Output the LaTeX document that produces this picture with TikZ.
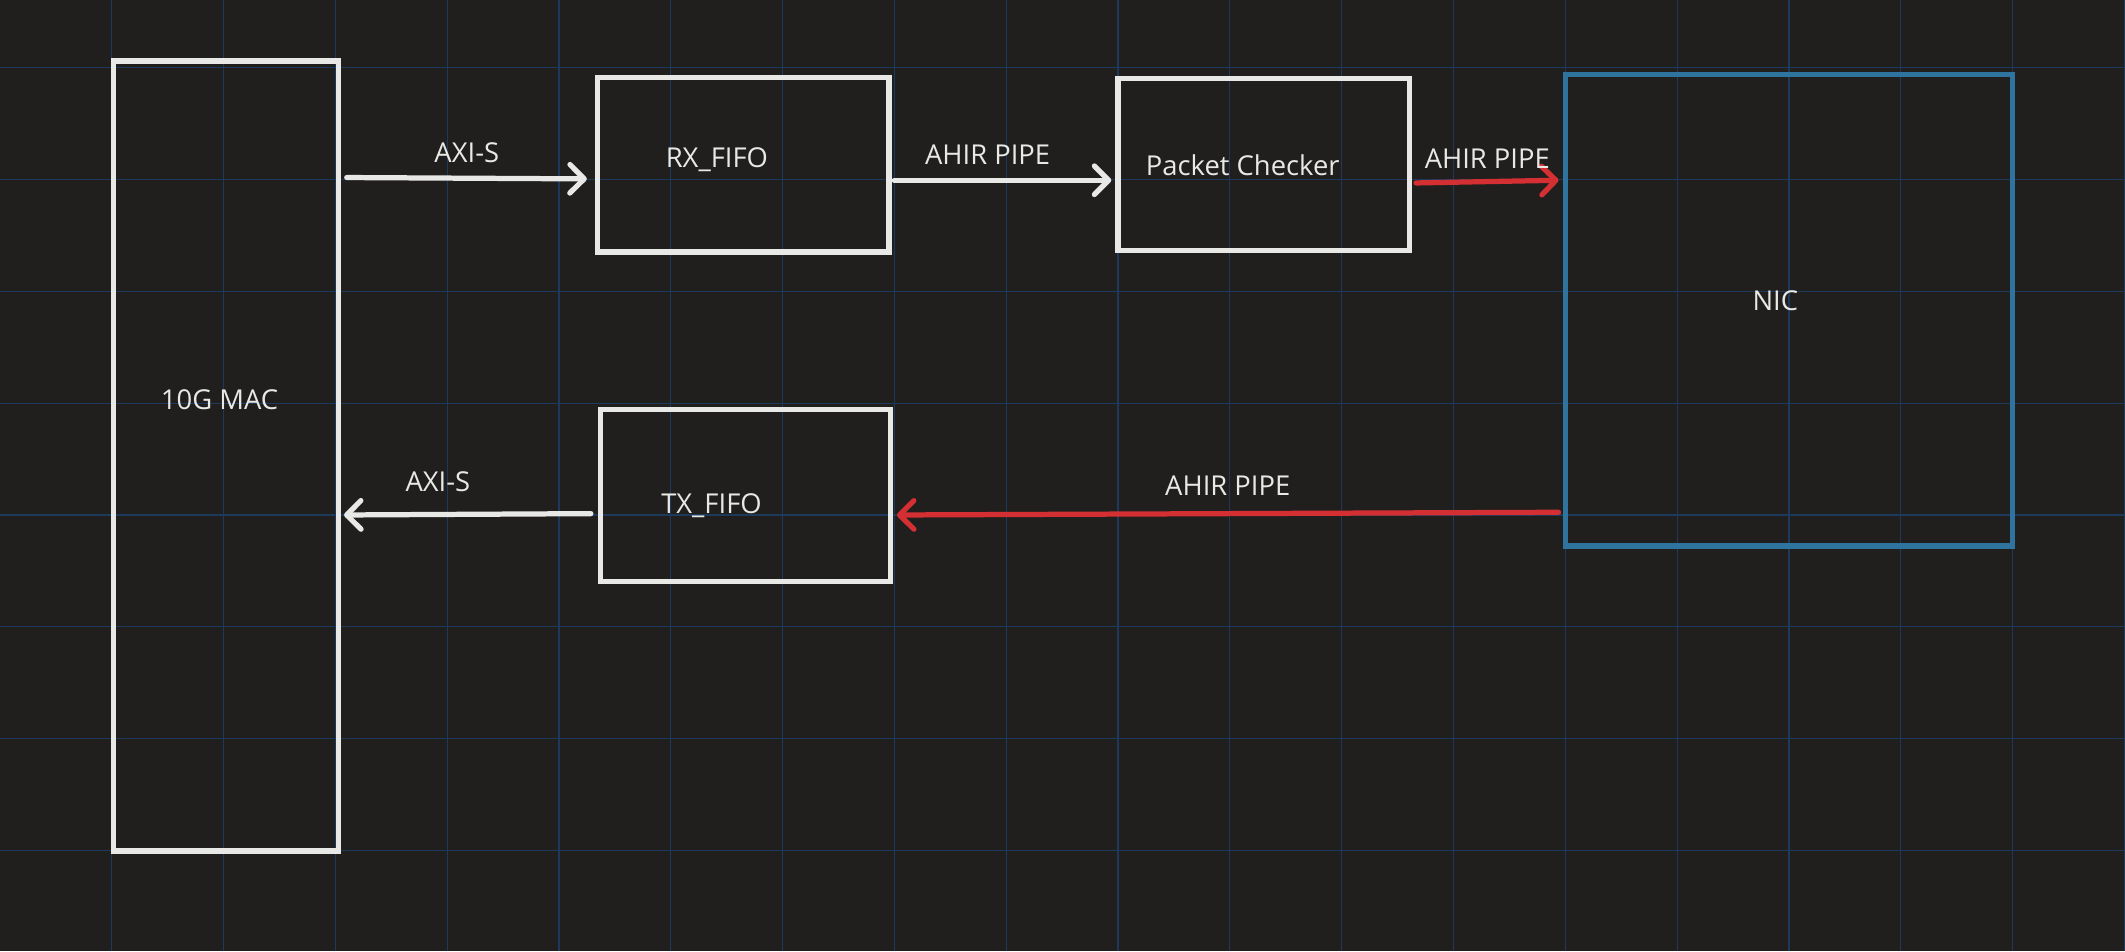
\documentclass[tikz,border=0pt]{standalone}
\usepackage{fontspec}
\setmainfont{Open Sans}
\usepackage{tikz}
\usetikzlibrary{calc,backgrounds,arrows.meta}
\definecolor{bgcol}{RGB}{32,31,30}
\definecolor{gridcol}{RGB}{29,58,92}
\definecolor{boxcol}{RGB}{232,232,230}
\definecolor{niccol}{RGB}{46,116,158}
\definecolor{pipecol}{RGB}{212,48,52}
\tikzstyle{board}=[
  x=0.02cm, y=-0.02cm, font=\fontsize{11.5}{14}\selectfont, text=boxcol
]
\tikzstyle{blockbox}=[
  draw=boxcol, line width=2.2pt, inner sep=0pt, anchor=north west
]
\tikzstyle{nicbox}=[
  blockbox, draw=niccol
]
\tikzstyle{blocklabel}=[
  inner sep=1pt, text=boxcol
]
\tikzstyle{wire}=[
  line width=2.2pt, line cap=round, draw=boxcol,
  -{Straight Barb[length=6pt,width=12pt,line width=2.2pt,round]}
]
\tikzstyle{pipe}=[
  wire, draw=pipecol
]

\begin{document}
\begin{tikzpicture}[board]
      \def\gap{82.5}
        \fill[bgcol] (0,0) rectangle (1568,702);
        \useasboundingbox (0,0) rectangle (1568,702);
        \foreach \i in {1,...,19}
          \draw[gridcol, line width=0.5pt] (\i*\gap, 0) -- (\i*\gap, 702);
        \foreach \j in {0,...,7}
          \draw[gridcol, line width=0.5pt] (0, 50+\j*\gap) -- (1568, 50+\j*\gap);

        \node (mac) at (82, 43) [blockbox, minimum width=166*0.02cm, minimum height=583*0.02cm] {};
        \node (rxfifo) at (439, 55) [blockbox, minimum width=215*0.02cm, minimum height=129*0.02cm] {};
        \node (checker) at (823, 56) [blockbox, minimum width=215*0.02cm, minimum height=127*0.02cm] {};
        \node (nic) at (1153, 53) [nicbox, minimum width=330*0.02cm, minimum height=348*0.02cm] {};
        \node (txfifo) at (441, 300) [blockbox, minimum width=214*0.02cm, minimum height=127*0.02cm] {};

        \node (maclbl) at ($(mac.north west) + (80, 252)$) [blocklabel] {10G MAC};
        \node (rxlbl) at ($(rxfifo.north west) + (90, 63)$) [blocklabel] {RX\_FIFO};
        \node (chklbl) at ($(checker.north west) + (94, 66)$) [blocklabel] {Packet Checker};
        \node (niclbl) at ($(nic.north west) + (157, 169)$) [blocklabel] {NIC};
        \node (txlbl) at ($(txfifo.north west) + (84, 73)$) [blocklabel] {TX\_FIFO};

        \coordinate (macrx) at ($(mac.north east) + (4, 88)$);
        \coordinate (rxin) at ($(rxfifo.north west) + (-6, 77)$);
        \coordinate (rxout) at ($(rxfifo.north east) + (2, 78)$);
        \coordinate (chkin) at ($(checker.north west) + (-3, 77)$);
        \coordinate (chkout) at ($(checker.north east) + (3, 79)$);
        \coordinate (nicin) at ($(nic.north west) + (-3, 80)$);
        \coordinate (nicout) at ($(nic.north west) + (-3, 325)$);
        \coordinate (txin) at ($(txfifo.north east) + (3, 80)$);
        \coordinate (txout) at ($(txfifo.north west) + (-5, 79)$);
        \coordinate (mactx) at ($(mac.north east) + (2, 337)$);

        \draw [wire] (macrx) -- node[above=2pt] {AXI-S} (rxin);
        \draw [wire] (rxout) -- node[above=2pt, pos=0.43] {AHIR PIPE} (chkin);
        \draw [pipe] (chkout) -- node[above=1pt] {AHIR PIPE} (nicin);
        \draw [pipe] (nicout) -- node[above=3pt, pos=0.5] {AHIR PIPE} (txin);
        \draw [wire] (txout) -- node[above=5pt, pos=0.62] {AXI-S} (mactx);
    \end{tikzpicture}
\end{document}
